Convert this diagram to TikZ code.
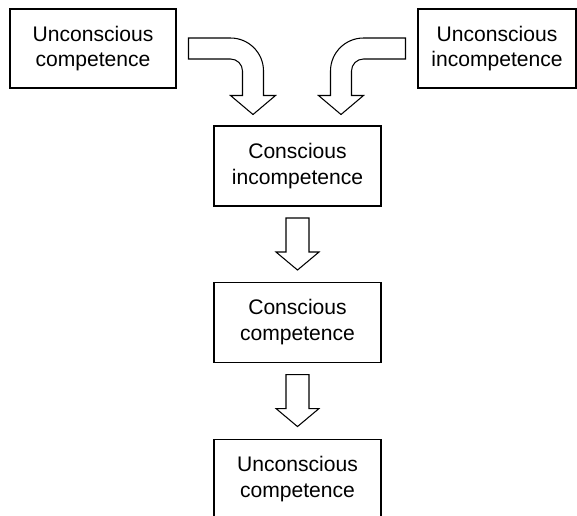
\documentclass[tikz,border=0pt]{standalone}
\usepackage{fontspec}
\setmainfont{Liberation Sans}
\usetikzlibrary{positioning}
\tikzstyle{box}=[draw,line width=0.6pt,align=center,minimum height=1.58cm,font=\fontsize{12}{14.5}\selectfont]
\tikzset{
	hollow/.style={draw,line width=0.6pt,fill=white,line join=miter},
}
% straight block arrow between two stacked boxes
\newcommand{\blockdown}[2]{\draw[hollow] ($(#1.south)!0.5!(#2.north)$) ++(-11.5,26) -- ++(0,-34) -- ++(-10,0) -- ++(21.5,-18) -- ++(21.5,18) -- ++(-10,0) -- ++(0,34) -- cycle;}
% bent block arrow leaving a box sideways (#3=1 to the right, -1 to the left)
\newcommand{\bentarrow}[3]{\draw[hollow,xscale=#3] (#1.#2) ++(12,10.5) -- ++(42,0) arc[start angle=90,end angle=0,radius=0.66cm] -- ++(0,-24.5) -- ++(12,0) -- ++(-22.5,-19) -- ++(-22.5,19) -- ++(12,0) -- ++(0,24.5) arc[start angle=0,end angle=90,radius=0.24cm] -- ++(-42,0) -- cycle;}
\usetikzlibrary{calc}

\begin{document}
\begin{tikzpicture}[x=0.02cm,y=0.02cm]
    \useasboundingbox (0,0) rectangle (577,-515);
    % top row
    \node[box,minimum width=3.32cm] (uc) at (93,-48.5) {Unconscious\\competence};
    \node[box,minimum width=3.16cm] (ui) at (497,-48.5) {Unconscious\\incompetence};
    % middle column
    \node[box,minimum width=3.34cm,minimum height=1.6cm] (ci) at (297.5,-166) {Conscious\\incompetence};
    \node[box,minimum width=3.34cm,minimum height=1.6cm,below=1.5cm of ci] (cc) {Conscious\\competence};
    \node[box,minimum width=3.34cm,minimum height=1.6cm,below=1.52cm of cc] (uc2) {Unconscious\\competence};

    \bentarrow{uc}{east}{1}
    \bentarrow{ui}{west}{-1}
    \blockdown{ci}{cc}
    \blockdown{cc}{uc2}
\end{tikzpicture}
\end{document}
